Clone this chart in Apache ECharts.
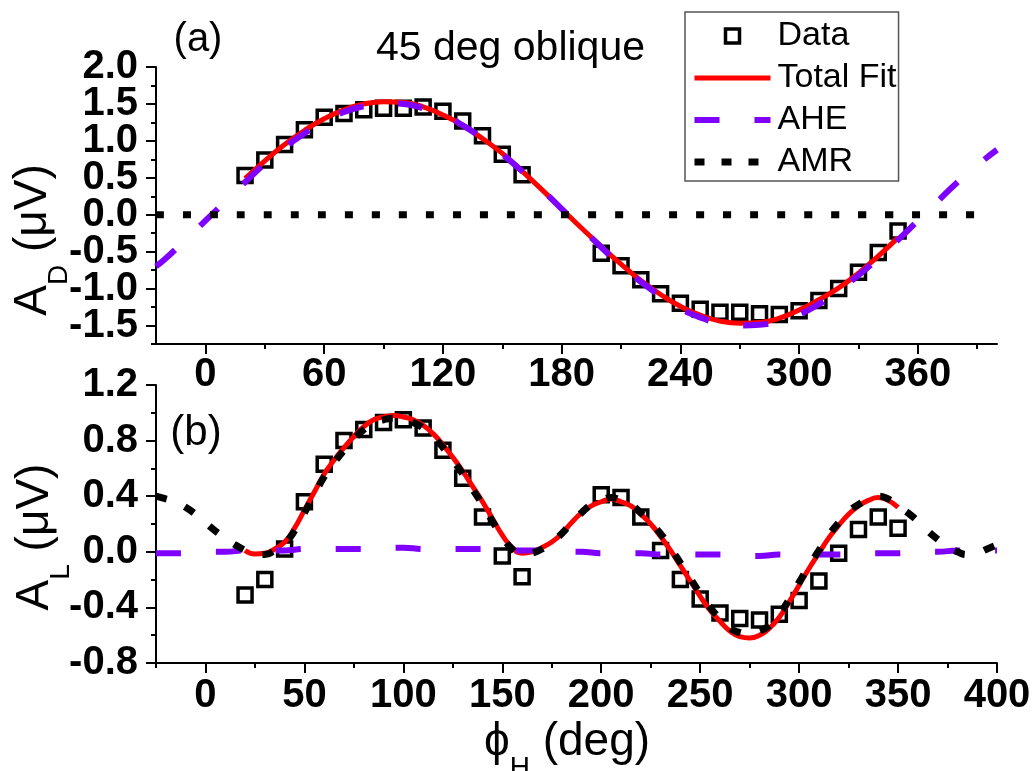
<!DOCTYPE html>
<html>
<head>
<meta charset="utf-8">
<script src="https://cdn.jsdelivr.net/npm/echarts@6/dist/echarts.min.js"></script>
<style>
  html, body { margin: 0; padding: 0; background: #fff; }
  #chart { width: 1035px; height: 771px; }
</style>
</head>
<body>
<div id="chart"></div>
<script>
// Measured angles (deg) shared by both panels
const dataAngles = [20, 30, 40, 50, 60, 70, 80, 90, 100, 110, 120, 130, 140, 150, 160,
  200, 210, 220, 230, 240, 250, 260, 270, 280, 290, 300, 310, 320, 330, 340, 350];
// (a) A_D measured
const topData = [0.53, 0.74, 0.95, 1.15, 1.32, 1.37, 1.42, 1.44, 1.44, 1.46, 1.40, 1.27, 1.07, 0.82, 0.54,
  -0.52, -0.69, -0.88, -1.07, -1.20, -1.28, -1.32, -1.32, -1.34, -1.35, -1.30, -1.16, -1.00, -0.78, -0.51, -0.22];
// (b) A_L measured
const bottomData = [-0.31, -0.20, 0.02, 0.36, 0.63, 0.80, 0.88, 0.93, 0.95, 0.89, 0.73, 0.53, 0.25, -0.03, -0.18,
  0.41, 0.39, 0.25, 0.01, -0.20, -0.34, -0.44, -0.48, -0.49, -0.45, -0.35, -0.21, -0.01, 0.16, 0.25, 0.17];

// (a) total fit, 10 deg steps
const topFitAngles = [20, 30, 40, 50, 60, 70, 80, 90, 100, 110, 120, 130, 140, 150, 160, 170, 180, 190,
  200, 210, 220, 230, 240, 250, 260, 270, 280, 290, 300, 310, 320, 330, 340, 350];
const topTotalFit = [0.49, 0.73, 0.95, 1.14, 1.30, 1.42, 1.50, 1.53, 1.52, 1.46, 1.35, 1.21, 1.03, 0.83, 0.59, 0.34, 0.08, -0.18,
  -0.43, -0.67, -0.89, -1.08, -1.24, -1.36, -1.44, -1.47, -1.46, -1.40, -1.29, -1.15, -0.99, -0.79, -0.56, -0.31];

// (b) total fit, 5 deg steps
const bottomFitAngles = [20, 25, 30, 35, 40, 45, 50, 55, 60, 65, 70, 75, 80, 85, 90, 95, 100, 105, 110, 115,
  120, 125, 130, 135, 140, 145, 150, 155, 160, 165, 170, 175, 180, 185, 190, 195, 200, 205, 210, 215,
  220, 225, 230, 235, 240, 245, 250, 255, 260, 265, 270, 275, 280, 285, 290, 295, 300, 305, 310, 315,
  320, 325, 330, 335, 340, 345, 350];
const bottomTotalFit = [0.01, -0.015, -0.01, 0.02, 0.07, 0.17, 0.30, 0.43, 0.56, 0.66, 0.75, 0.83, 0.90, 0.95, 0.97, 0.98, 0.97, 0.95, 0.91, 0.85,
  0.77, 0.68, 0.58, 0.47, 0.36, 0.24, 0.12, 0.03, -0.01, 0.00, 0.03, 0.07, 0.13, 0.21, 0.28, 0.33, 0.36, 0.38, 0.36, 0.33,
  0.27, 0.20, 0.11, 0.01, -0.10, -0.21, -0.32, -0.42, -0.50, -0.57, -0.61, -0.62, -0.60, -0.55, -0.47, -0.36, -0.24, -0.12, -0.01, 0.10,
  0.19, 0.27, 0.33, 0.37, 0.39, 0.37, 0.32];

// AHE components over the full angle range, 10 deg steps
const componentAngles = [-25, -20, -10, 0, 10, 20, 30, 40, 50, 60, 70, 80, 90, 100, 110, 120, 130, 140, 150, 160,
  170, 180, 190, 200, 210, 220, 230, 240, 250, 260, 270, 280, 290, 300, 310, 320, 330, 340, 350, 360, 370, 380, 390, 400];
const topAHE = [-0.70, -0.59, -0.34, -0.08, 0.18, 0.44, 0.69, 0.91, 1.10, 1.27, 1.39, 1.47, 1.51, 1.50, 1.44, 1.35, 1.21, 1.03, 0.82, 0.59,
  0.34, 0.08, -0.18, -0.44, -0.69, -0.91, -1.10, -1.27, -1.39, -1.47, -1.50, -1.49, -1.44, -1.35, -1.21, -1.03, -0.82, -0.59, -0.34, -0.08, 0.18, 0.44, 0.67, 0.88];
const bottomAHE = [-0.01, -0.01, -0.01, 0.00, 0.00, 0.01, 0.01, 0.01, 0.02, 0.02, 0.02, 0.02, 0.03, 0.03, 0.02, 0.02, 0.02, 0.02, 0.01, 0.01,
  0.01, 0.00, 0.00, -0.01, -0.01, -0.01, -0.02, -0.02, -0.02, -0.02, -0.03, -0.03, -0.02, -0.02, -0.02, -0.02, -0.01, -0.01, -0.01, 0.00, 0.00, 0.01, 0.01, 0.01];

// (b) AMR component, 5 deg steps
const amrAngles = [-25, -20, -15, -10, -5, 0, 5, 10, 15, 20, 25, 30, 35, 40, 45, 50, 55, 60, 65, 70,
  75, 80, 85, 90, 95, 100, 105, 110, 115, 120, 125, 130, 135, 140, 145, 150, 155, 160, 165, 170,
  175, 180, 185, 190, 195, 200, 205, 210, 215, 220, 225, 230, 235, 240, 245, 250, 255, 260, 265, 270,
  275, 280, 285, 290, 295, 300, 305, 310, 315, 320, 325, 330, 335, 340, 345, 350, 355, 360, 365, 370,
  375, 380, 385, 390, 395, 400];
const bottomAMR = [0.40, 0.38, 0.36, 0.32, 0.27, 0.21, 0.15, 0.10, 0.05, 0.01, -0.02, -0.02, 0.01, 0.06, 0.15, 0.28, 0.41, 0.54, 0.64, 0.73,
  0.81, 0.88, 0.93, 0.95, 0.96, 0.95, 0.93, 0.89, 0.83, 0.75, 0.66, 0.56, 0.45, 0.34, 0.22, 0.11, 0.02, -0.02, -0.01, 0.02,
  0.07, 0.13, 0.21, 0.28, 0.34, 0.37, 0.39, 0.37, 0.34, 0.28, 0.21, 0.13, 0.03, -0.08, -0.19, -0.30, -0.40, -0.48, -0.55, -0.58,
  -0.59, -0.57, -0.53, -0.45, -0.34, -0.22, -0.10, 0.01, 0.12, 0.21, 0.29, 0.34, 0.38, 0.40, 0.38, 0.33, 0.28, 0.22, 0.15, 0.09,
  0.04, 0.00, -0.02, -0.01, 0.02, 0.05];

// (a) AMR component is flat
const topAMRAngles = [-25, 395];
const topAMR = [0, 0];

// Tick positions and labels
const topXTicks = [0, 60, 120, 180, 240, 300, 360];
const topXMinorTicks = [30, 90, 150, 210, 270, 330, 390];
const bottomXTicks = [0, 50, 100, 150, 200, 250, 300, 350, 400];
const bottomXMinorTicks = [-25, 25, 75, 125, 175, 225, 275, 325, 375];
const topYTicks = [-1.5, -1.0, -0.5, 0.0, 0.5, 1.0, 1.5, 2.0];
const topYMinorTicks = [-1.75, -1.25, -0.75, -0.25, 0.25, 0.75, 1.25, 1.75];
const bottomYTicks = [-0.8, -0.4, 0.0, 0.4, 0.8, 1.2];
const bottomYMinorTicks = [-0.6, -0.2, 0.2, 0.6, 1.0];

const FONT = '"Liberation Sans", Arial, Helvetica, sans-serif';
const RED = '#ff0000';
const PURPLE = '#7f00ff';

const pairs = (xs, ys) => xs.map((x, i) => [x, ys[i]]);
// The tightly packed (a) y labels are split over two stacked axes (every other label each)
const evens = arr => arr.filter((_, i) => i % 2 === 0);
const odds = arr => arr.filter((_, i) => i % 2 === 1);

const tickStyle = { color: '#000', width: 2 };
function labelOpts(values, margin, fmt) {
  if (!values || !values.length) return { show: false };
  return {
    show: true, customValues: values, margin,
    showMinLabel: true, showMaxLabel: true, hideOverlap: false,
    color: '#000', fontFamily: FONT, fontWeight: 'bold', fontSize: 40, lineHeight: 30,
    formatter: fmt
  };
}
function makeAxis(gridIndex, min, max, position, opts) {
  return {
    type: 'value', gridIndex, min, max, position,
    splitLine: { show: false },
    minorTick: { show: false },
    axisLine: { show: !!opts.line, onZero: false, lineStyle: { color: '#000', width: 2 } },
    axisTick: { show: true, inside: false, length: opts.tickLength, customValues: opts.ticks, lineStyle: tickStyle },
    axisLabel: labelOpts(opts.labels, opts.margin, opts.fmt)
  };
}

const xFmt = v => String(Math.round(v));
const yFmt = v => Number(v).toFixed(1);

const lineSeries = (name, xi, yi, xs, ys, color, width, type, z) => ({
  name, type: 'line', xAxisIndex: xi, yAxisIndex: yi,
  data: pairs(xs, ys), smooth: true, symbol: 'none', z,
  color, lineStyle: { color, width, type, cap: 'butt' }
});
const scatterSeries = (xi, yi, ys) => ({
  name: 'Data', type: 'scatter', xAxisIndex: xi, yAxisIndex: yi,
  data: pairs(dataAngles, ys), symbol: 'rect', symbolSize: 14, z: 2,
  itemStyle: { color: '#fff', borderColor: '#000', borderWidth: 3.5, opacity: 1 }
});

function titleText(x, y, main, sub, rest, rotate) {
  return {
    type: 'text', x, y, rotation: rotate ? Math.PI / 2 : 0, z: 100,
    style: {
      text: '{m|' + main + '}{s|' + sub + '}{m|' + rest + '}',
      align: 'center', verticalAlign: 'middle', fill: '#000',
      rich: {
        m: { font: '46px ' + FONT, fill: '#000', lineHeight: 80, height: 46 },
        s: { font: '28px ' + FONT, fill: '#000', height: 28, verticalAlign: 'bottom' }
      }
    }
  };
}
function plainText(x, y, text, size, align) {
  return {
    type: 'text', x, y, z: 100,
    style: { text, font: size + 'px ' + FONT, fill: '#000', align: align || 'center', verticalAlign: 'middle' }
  };
}

const chart = echarts.init(document.getElementById('chart'), null, { renderer: 'canvas' });
chart.setOption({
  animation: false,
  backgroundColor: '#fff',
  grid: [
    { left: 156, top: 67, width: 841, height: 277, containLabel: false, outerBoundsMode: 'none' },
    { left: 156, top: 385, width: 841, height: 278, containLabel: false, outerBoundsMode: 'none' }
  ],
  xAxis: [
    makeAxis(0, -25, 400, 'bottom', { line: true, ticks: topXTicks, tickLength: 10, labels: topXTicks, margin: 16, fmt: xFmt }),
    makeAxis(0, -25, 400, 'bottom', { ticks: topXMinorTicks, tickLength: 5 }),
    makeAxis(1, -25, 400, 'bottom', { line: true, ticks: bottomXTicks, tickLength: 10, labels: bottomXTicks, margin: 18, fmt: xFmt }),
    makeAxis(1, -25, 400, 'bottom', { ticks: bottomXMinorTicks, tickLength: 5 })
  ],
  yAxis: [
    makeAxis(0, -1.75, 2.0, 'left', { line: true, ticks: topYTicks, tickLength: 10, labels: evens(topYTicks), margin: 18, fmt: yFmt }),
    makeAxis(0, -1.75, 2.0, 'left', { ticks: topYMinorTicks, tickLength: 5, labels: odds(topYTicks), margin: 18, fmt: yFmt }),
    makeAxis(1, -0.8, 1.2, 'left', { line: true, ticks: bottomYTicks, tickLength: 10, labels: bottomYTicks, margin: 18, fmt: yFmt }),
    makeAxis(1, -0.8, 1.2, 'left', { ticks: bottomYMinorTicks, tickLength: 5 })
  ],
  legend: {
    orient: 'vertical', left: 685, top: 12, z: 50,
    selectedMode: false,
    itemWidth: 76, itemHeight: 14, itemGap: 8,
    backgroundColor: '#fff', borderColor: '#555', borderWidth: 1.5,
    padding: [7, 2, 2, 6],
    textStyle: { fontFamily: FONT, fontSize: 34, lineHeight: 34, color: '#000', padding: [0, 0, 0, 2] },
    data: [
      { name: 'Data', icon: 'path://M0 0H10V10H0Z', itemStyle: { color: '#fff', borderColor: '#000', borderWidth: 3.5, opacity: 1 } },
      { name: 'Total Fit', itemStyle: { opacity: 0 }, lineStyle: { color: RED, width: 5, type: 'solid' } },
      { name: 'AHE', itemStyle: { opacity: 0 }, lineStyle: { color: PURPLE, width: 6, type: [25, 35] } },
      { name: 'AMR', itemStyle: { opacity: 0 }, lineStyle: { color: '#000', width: 7, type: [10, 17] } }
    ]
  },
  graphic: [
    plainText(198, 40, '(a)', 40),
    plainText(376, 49, '45 deg oblique', 41, 'left'),
    plainText(196, 433, '(b)', 42),
    titleText(33, 240, 'A', 'D', ' (μV)', true),
    titleText(35, 537, 'A', 'L', ' (μV)', true),
    titleText(567, 742, 'ϕ', 'H', ' (deg)', false)
  ],
  series: [
    scatterSeries(0, 0, topData),
    lineSeries('Total Fit', 0, 0, topFitAngles, topTotalFit, RED, 5, 'solid', 3),
    lineSeries('AHE', 0, 0, componentAngles, topAHE, PURPLE, 6, [25, 35], 4),
    lineSeries('AMR', 0, 0, topAMRAngles, topAMR, '#000', 7, [8, 19], 5),
    scatterSeries(2, 2, bottomData),
    lineSeries('Total Fit', 2, 2, bottomFitAngles, bottomTotalFit, RED, 5, 'solid', 3),
    lineSeries('AHE', 2, 2, componentAngles, bottomAHE, PURPLE, 6, [25, 35], 4),
    lineSeries('AMR', 2, 2, amrAngles, bottomAMR, '#000', 7, [11, 20], 5)
  ]
});
</script>
</body>
</html>
